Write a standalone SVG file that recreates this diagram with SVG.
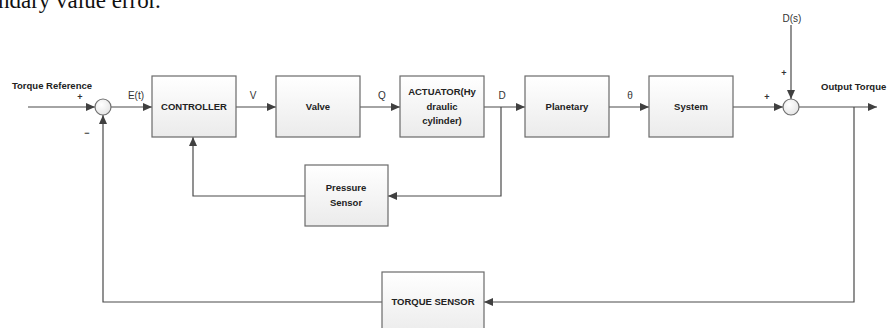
<svg xmlns="http://www.w3.org/2000/svg" width="888" height="328" viewBox="0 0 888 328">
<defs>
<linearGradient id="boxg" x1="0" y1="0" x2="0" y2="1">
<stop offset="0" stop-color="#ffffff"/>
<stop offset="1" stop-color="#ebebeb"/>
</linearGradient>
<radialGradient id="sumg" cx="0.4" cy="0.35" r="0.7">
<stop offset="0" stop-color="#ffffff"/>
<stop offset="1" stop-color="#e4e4e4"/>
</radialGradient>
<marker id="arr" markerUnits="userSpaceOnUse" markerWidth="10" markerHeight="8" refX="9" refY="4" orient="auto">
<path d="M0,0 L9,4 L0,8 z" fill="#404040"/>
</marker>
</defs>
<style>
.box{fill:url(#boxg);stroke:#6a6a6a;stroke-width:1.2}
.sum{fill:url(#sumg);stroke:#707070;stroke-width:1.2}
.ln{fill:none;stroke:#4a4a4a;stroke-width:1.2}
.b{font-family:"Liberation Sans",Arial,sans-serif;font-size:9.5px;font-weight:bold;fill:#222;text-anchor:middle}
.r{font-family:"Liberation Sans",Arial,sans-serif;font-size:10px;fill:#333;text-anchor:middle}
.s{font-family:"Liberation Sans",Arial,sans-serif;font-size:9px;font-weight:bold;fill:#333;text-anchor:middle}
</style>
<rect width="888" height="328" fill="#ffffff"/>
<text x="-2" y="8" font-family="'Liberation Serif','Times New Roman',serif" font-size="23" fill="#111">ndary value error.</text>

<g id="connectors">
<path class="ln" d="M28,107 H95" marker-end="url(#arr)"/>
<path class="ln" d="M111,107 H152" marker-end="url(#arr)"/>
<path class="ln" d="M236,107 H276" marker-end="url(#arr)"/>
<path class="ln" d="M360,107 H400" marker-end="url(#arr)"/>
<path class="ln" d="M484,107 H525" marker-end="url(#arr)"/>
<path class="ln" d="M609,107 H649" marker-end="url(#arr)"/>
<path class="ln" d="M733,107 H783" marker-end="url(#arr)"/>
<path class="ln" d="M791,25 V99" marker-end="url(#arr)"/>
<path class="ln" d="M799,107 H877" marker-end="url(#arr)"/>
<path class="ln" d="M854,107 V302 H484" marker-end="url(#arr)"/>
<path class="ln" d="M382,302 H103 V115" marker-end="url(#arr)"/>
<path class="ln" d="M501,107 V196 H388" marker-end="url(#arr)"/>
<path class="ln" d="M305,196 H193 V137" marker-end="url(#arr)"/>
</g>

<g id="labels">
<text class="b" x="52" y="89">Torque Reference</text>
<text class="s" x="80" y="100">+</text>
<text class="s" x="87" y="136">−</text>
<text class="r" x="136" y="99">E(t)</text>
<text class="r" x="253" y="99">V</text>
<text class="r" x="382" y="99">Q</text>
<text class="r" x="502" y="99">D</text>
<text class="r" x="630" y="99">θ</text>
<text class="s" x="767" y="100">+</text>
<text class="s" x="784" y="76">+</text>
<text class="r" x="792" y="22">D(s)</text>
<text class="b" x="821" y="90" style="text-anchor:start">Output Torque</text>
</g>

<g id="sum1"><circle class="sum" cx="103" cy="107" r="8"/></g>
<g id="sum2"><circle class="sum" cx="791" cy="107" r="8"/></g>

<g id="controller">
<rect class="box" x="152" y="76" width="84" height="61"/>
<text class="b" x="194" y="110">CONTROLLER</text>
</g>
<g id="valve">
<rect class="box" x="276" y="76" width="84" height="61"/>
<text class="b" x="318" y="110">Valve</text>
</g>
<g id="actuator">
<rect class="box" x="400" y="76" width="84" height="61"/>
<text class="b" x="442" y="95">ACTUATOR(Hy</text>
<text class="b" x="442" y="110">draulic</text>
<text class="b" x="442" y="124">cylinder)</text>
</g>
<g id="planetary">
<rect class="box" x="525" y="76" width="84" height="61"/>
<text class="b" x="567" y="110">Planetary</text>
</g>
<g id="system">
<rect class="box" x="649" y="76" width="84" height="61"/>
<text class="b" x="691" y="110">System</text>
</g>
<g id="pressure-sensor">
<rect class="box" x="305" y="165" width="83" height="61"/>
<text class="b" x="346" y="191">Pressure</text>
<text class="b" x="346" y="206">Sensor</text>
</g>
<g id="torque-sensor">
<rect class="box" x="382" y="272" width="102" height="64"/>
<text class="b" x="433" y="305">TORQUE SENSOR</text>
</g>
</svg>
